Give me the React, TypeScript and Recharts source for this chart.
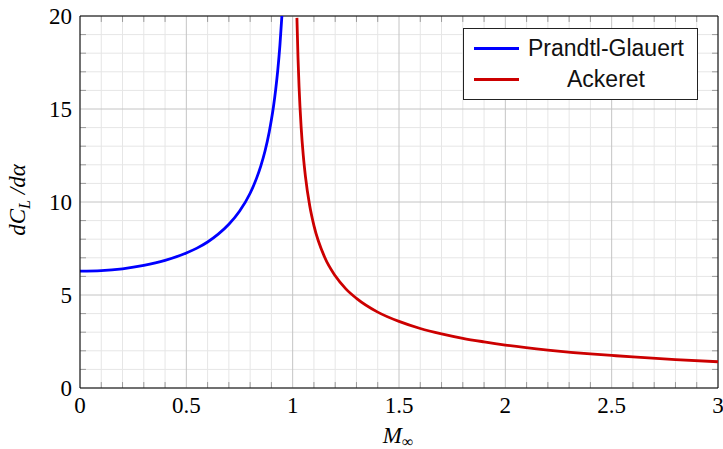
import { CartesianGrid, Legend, Line, LineChart, ReferenceLine, XAxis, YAxis } from "recharts";

// lift slope, subsonic branch
const pgMach = [0, 0.1, 0.2, 0.3, 0.4, 0.5, 0.55, 0.6, 0.65, 0.7, 0.75, 0.8, 0.83, 0.85, 0.87, 0.89, 0.9, 0.91, 0.92, 0.93, 0.94, 0.95];
const pgSlope = [6.28, 6.31, 6.41, 6.59, 6.86, 7.26, 7.52, 7.85, 8.27, 8.8, 9.5, 10.47, 11.27, 11.93, 12.74, 13.78, 14.42, 15.15, 16.03, 17.09, 18.42, 20.12];

// supersonic branch
const ackMach = [1.02, 1.025, 1.03, 1.04, 1.05, 1.06, 1.08, 1.1, 1.15, 1.2, 1.25, 1.3, 1.4, 1.5, 1.6, 1.7, 1.8, 1.9, 2.0, 2.2, 2.4, 2.5, 2.6, 2.8, 3.0];
const ackSlope = [19.9, 17.78, 16.21, 14.0, 12.49, 11.38, 9.81, 8.73, 7.04, 6.03, 5.33, 4.82, 4.08, 3.58, 3.2, 2.91, 2.67, 2.48, 2.31, 2.04, 1.83, 1.75, 1.67, 1.53, 1.41];

const seriesNames = ["Prandtl-Glauert", "Ackeret"];

const xMajor = [0, 0.5, 1, 1.5, 2, 2.5, 3];
const xMinor = [0.1, 0.2, 0.3, 0.4, 0.6, 0.7, 0.8, 0.9, 1.1, 1.2, 1.3, 1.4, 1.6, 1.7, 1.8, 1.9, 2.1, 2.2, 2.3, 2.4, 2.6, 2.7, 2.8, 2.9];
const yMajor = [0, 5, 10, 15, 20];
const yMinor = [1, 2, 3, 4, 6, 7, 8, 9, 11, 12, 13, 14, 16, 17, 18, 19];

const X_MAX = 3;
const Y_MAX = 20;
// inner tick mark length, in axis units (~6px)
const xTickLen = 0.028;
const yTickLen = 0.32;

const serif = "Liberation Serif";
const sans = "Liberation Sans";

const pgData = pgMach.map((m, i) => ({ m, v: pgSlope[i] }));
const ackData = ackMach.map((m, i) => ({ m, v: ackSlope[i] }));

function LegendBox({ payload }: any) {
    const items = seriesNames
        .map((n) => (payload || []).find((p: any) => p.value === n))
        .filter(Boolean);
    return (
        <div style={{ width: 235, boxSizing: "border-box", border: "1px solid #222", background: "#fff", padding: "4px 0 4px 10px" }}>
            {items.map((p: any) => (
                <div key={p.value} style={{ display: "flex", alignItems: "center", height: 31 }}>
                    <div style={{ width: 45, height: 3, background: p.color }} />
                    <div style={{ width: 158, marginLeft: 8, textAlign: "center", fontFamily: sans, fontSize: 23, color: "#111" }}>{p.value}</div>
                </div>
            ))}
        </div>
    );
}

function XTick({ x, y, payload }: any) {
    return (
        <text x={x} y={y + 16} textAnchor="middle" style={{ fontFamily: serif, fontSize: 23 }} fill="#000">
            {payload.value}
        </text>
    );
}

function YTick({ x, y, payload }: any) {
    return (
        <text x={x} y={y + 8} textAnchor="end" style={{ fontFamily: serif, fontSize: 23 }} fill="#000">
            {payload.value}
        </text>
    );
}

// minor grid positions from the plot box (linear axes starting at 0)
const minorX = ({ offset }: any) => xMinor.map((v) => offset.left + (v / X_MAX) * offset.width);
const minorY = ({ offset }: any) => yMinor.map((v) => offset.top + (1 - v / Y_MAX) * offset.height);

export default function App() {
    const tickStroke = "#9a9a9a";
    return (
        <div>
            <style>{"body{margin:0}"}</style>
            <LineChart width={723} height={449} margin={{ top: 16, right: 5, bottom: 0, left: 0 }}>
                <CartesianGrid stroke="#e6e6e6" verticalCoordinatesGenerator={minorX} horizontalCoordinatesGenerator={minorY} />
                <CartesianGrid stroke="#c4c4c4" fill="none" />
                <XAxis
                    dataKey="m"
                    type="number"
                    domain={[0, X_MAX]}
                    ticks={xMajor}
                    allowDataOverflow
                    height={61}
                    tickLine={false}
                    tickSize={0}
                    tickMargin={9}
                    axisLine={{ stroke: "#000" }}
                    tick={<XTick />}
                    label={() => (
                        <text x={398} y={443} textAnchor="middle" style={{ fontFamily: serif, fontSize: 23 }}>
                            <tspan fontStyle="italic">M</tspan>
                            <tspan fontSize={16} dy={4}>∞</tspan>
                        </text>
                    )}
                />
                <YAxis
                    type="number"
                    domain={[0, Y_MAX]}
                    ticks={yMajor}
                    allowDataOverflow
                    width={80}
                    tickLine={false}
                    tickSize={0}
                    tickMargin={8}
                    axisLine={{ stroke: "#000" }}
                    tick={<YTick />}
                    label={() => (
                        <text transform="translate(25,200) rotate(-90)" textAnchor="middle" style={{ fontFamily: serif, fontSize: 23, fontStyle: "italic" }}>
                            dC
                            <tspan fontSize={16} dy={5}>L</tspan>
                            <tspan dy={-5}> /dα</tspan>
                        </text>
                    )}
                />
                {xMinor.map((v) => (
                    <ReferenceLine key={"xb" + v} segment={[{ x: v, y: 0 }, { x: v, y: yTickLen }]} stroke={tickStroke} />
                ))}
                {xMinor.map((v) => (
                    <ReferenceLine key={"xt" + v} segment={[{ x: v, y: Y_MAX }, { x: v, y: Y_MAX - yTickLen }]} stroke={tickStroke} />
                ))}
                {yMinor.map((v) => (
                    <ReferenceLine key={"yl" + v} segment={[{ x: 0, y: v }, { x: xTickLen, y: v }]} stroke={tickStroke} />
                ))}
                {yMinor.map((v) => (
                    <ReferenceLine key={"yr" + v} segment={[{ x: X_MAX, y: v }, { x: X_MAX - xTickLen, y: v }]} stroke={tickStroke} />
                ))}
                <ReferenceLine x={X_MAX} stroke="#000" />
                <ReferenceLine y={Y_MAX} stroke="#000" />
                <Line data={pgData} dataKey="v" name="Prandtl-Glauert" type="monotone" stroke="#0000ff" strokeWidth={2.8} dot={false} isAnimationActive={false} />
                <Line data={ackData} dataKey="v" name="Ackeret" type="monotone" stroke="#cc0000" strokeWidth={2.8} dot={false} isAnimationActive={false} />
                <Legend layout="vertical" align="center" verticalAlign="middle" content={LegendBox} wrapperStyle={{ top: 28, left: 463, width: 235 }} />
            </LineChart>
        </div>
    );
}
